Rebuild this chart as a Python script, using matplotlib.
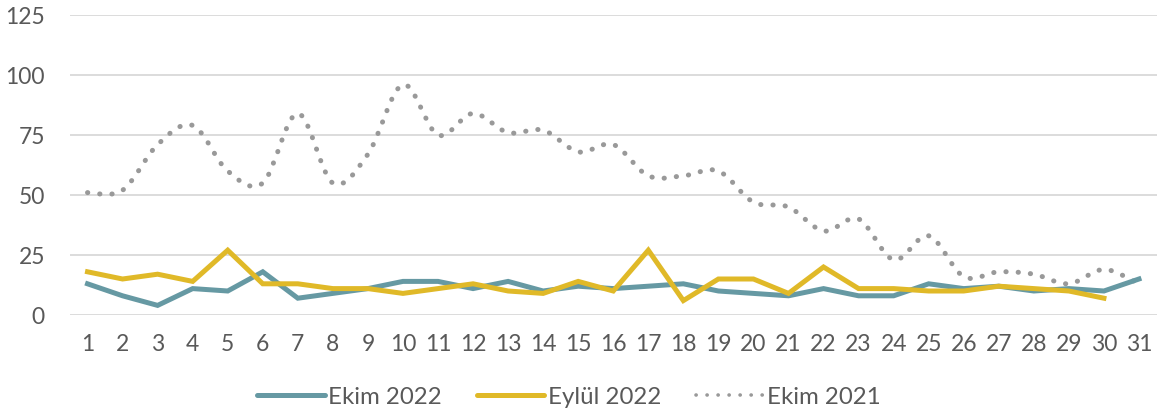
import numpy as np
import matplotlib
matplotlib.use("Agg")
import matplotlib.pyplot as plt
from matplotlib.path import Path
from matplotlib.patches import PathPatch
from matplotlib.lines import Line2D

# gunler
days = list(range(1, 32))

ekim_2022 = [13, 8, 4, 11, 10, 18, 7, 9, 11, 14, 14, 11, 14, 10, 12, 11,
             12, 13, 10, 9, 8, 11, 8, 8, 13, 11, 12, 10, 11, 10, 15]
eylul_2022 = [18, 15, 17, 14, 27, 13, 13, 11, 11, 9, 11, 13, 10, 9, 14, 10,
              27, 6, 15, 15, 9, 20, 11, 11, 10, 10, 12, 11, 10, 7]
ekim_2021 = [51, 52, 71, 79, 60, 55, 84, 55, 67, 96, 75, 84, 76, 77, 68, 71,
             58, 58, 60, 47, 45, 35, 40, 23, 33, 16, 18, 17, 13, 19, 13]

y_ticks = [0, 25, 50, 75, 100, 125]
labels = ["Ekim 2022", "Eylül 2022", "Ekim 2021"]

c_teal = "#6699A3"
c_yellow = "#E0B928"
c_gray = "#999999"
c_text = "#595959"

plt.rcParams['font.family'] = ['Lato', 'DejaVu Sans']

fig = plt.figure(figsize=(11.71, 4.15), dpi=100)
ax = fig.add_axes([70 / 1171, 1 - 315 / 415, (1156.5 - 70) / 1171, 300 / 415])

ax.plot(days[:len(ekim_2022)], ekim_2022, color=c_teal, lw=3.6,
        solid_joinstyle='miter', zorder=3)
ax.plot(days[:len(eylul_2022)], eylul_2022, color=c_yellow, lw=3.6,
        solid_joinstyle='miter', zorder=4)

# Excel tarzi yumusatilmis cizgi (Catmull-Rom -> Bezier)
x = np.array(days[:len(ekim_2021)], dtype=float)
y = np.array(ekim_2021, dtype=float)
verts = [(x[0], y[0])]
codes = [Path.MOVETO]
n = len(x)
for i in range(n - 1):
    x0, y0 = (x[i - 1], y[i - 1]) if i > 0 else (x[i], y[i])
    x3, y3 = (x[i + 2], y[i + 2]) if i + 2 < n else (x[i + 1], y[i + 1])
    c1 = (x[i] + (x[i + 1] - x0) / 6, y[i] + (y[i + 1] - y0) / 6)
    c2 = (x[i + 1] - (x3 - x[i]) / 6, y[i + 1] - (y3 - y[i]) / 6)
    verts += [c1, c2, (x[i + 1], y[i + 1])]
    codes += [Path.CURVE4] * 3
patch = PathPatch(Path(verts, codes), facecolor='none', edgecolor=c_gray,
                  lw=3.6, linestyle=(0, (0.05, 2.4)), capstyle='round', zorder=2)
ax.add_patch(patch)

ax.set_xlim(0.5, 31.5)
ax.set_ylim(0, 125)
ax.set_yticks(y_ticks)
ax.set_xticks(days)
ax.grid(axis='y', color='#D9D9D9', lw=1.3)
ax.set_axisbelow(True)
for s in ax.spines.values():
    s.set_visible(False)
ax.tick_params(axis='both', length=0, labelsize=16.5, colors=c_text)
ax.tick_params(axis='y', pad=18)
ax.tick_params(axis='x', pad=14)

handles = [
    Line2D([], [], color=c_teal, lw=3.6, solid_capstyle='round'),
    Line2D([], [], color=c_yellow, lw=3.6, solid_capstyle='round'),
    Line2D([], [], color=c_gray, lw=2.6, linestyle=(0, (0.05, 3.0)),
           dash_capstyle='round'),
]
fig.legend(handles, labels, loc='center', bbox_to_anchor=(569 / 1171, 1 - 397 / 415),
           ncol=3, frameon=False, fontsize=17.3, labelcolor=c_text,
           handlelength=2.8, handletextpad=0.15, columnspacing=1.45)

fig.savefig('out.png', dpi=100)
